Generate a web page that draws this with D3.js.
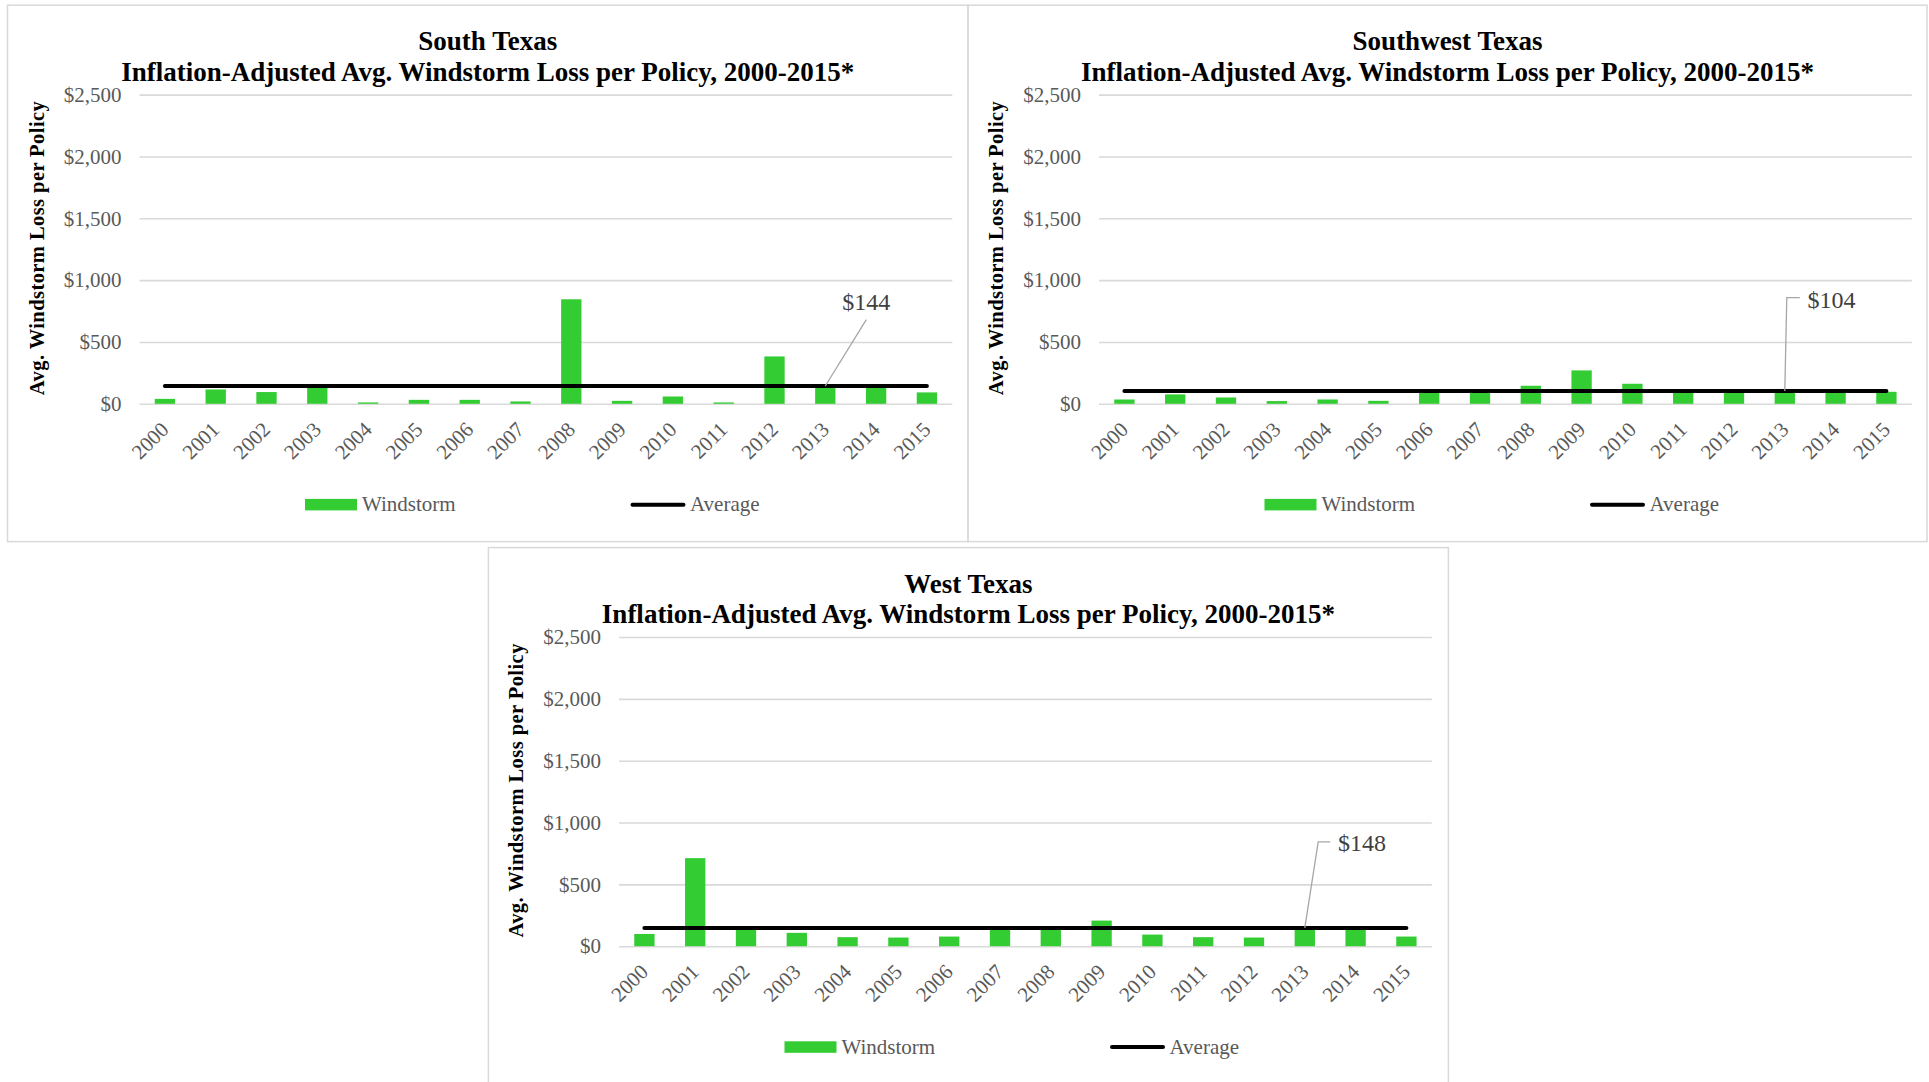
<!DOCTYPE html>
<html>
<head>
<meta charset="utf-8">
<script src="https://cdn.jsdelivr.net/npm/d3@7"></script>
<style>
  html, body { margin: 0; padding: 0; background: #ffffff; }
  svg { display: block; }
</style>
</head>
<body>
<svg id="chart" width="1929" height="1082"></svg>
<script>
// ---------------- DATA ----------------
const years = ['2000','2001','2002','2003','2004','2005','2006','2007','2008','2009','2010','2011','2012','2013','2014','2015'];
const regionNames = ['South Texas', 'Southwest Texas', 'West Texas'];
const subtitle = 'Inflation-Adjusted Avg. Windstorm Loss per Policy, 2000-2015*';
const southValues     = [40, 116, 95, 138, 11, 32, 32, 19, 845, 24, 59, 11, 383, 140, 140, 92];
const southwestValues = [35, 76, 51, 22, 35, 24, 95, 95, 146, 270, 162, 95, 95, 120, 95, 97];
const westValues      = [99, 712, 142, 108, 73, 70, 78, 142, 142, 207, 94, 73, 70, 145, 145, 78];
const averageValues   = [144, 104, 148];
const averageLabels   = ['$144', '$104', '$148'];
const yTicks = [0, 500, 1000, 1500, 2000, 2500];
const yAxisTitle = 'Avg. Windstorm Loss per Policy';
const legendLabels = ['Windstorm', 'Average'];

// ---------------- LAYOUT ----------------
const panels = [
  { x: 7.5,  y: 5.2,   w: 960.5, h: 536.4, plotLeft: 139.5, callout: 'diag' },
  { x: 968,  y: 5.2,   w: 959,   h: 536.4, plotLeft: 1099,  callout: 'elbowUp' },
  { x: 488.4,y: 547.6, w: 960,   h: 536.4, plotLeft: 619,   callout: 'elbowSlant' }
];
const seriesValues = [southValues, southwestValues, westValues];
const plotW = 812.8;
const plotTopRel = 89.4;
const plotBottomRel = 398.6;
const font = '"Liberation Serif", "Times New Roman", serif';
const green = '#33cc33';
const gridColor = '#d9d9d9';
const tickColor = '#595959';

const svg = d3.select('#chart');
svg.append('rect').attr('width', 1929).attr('height', 1082).attr('fill', '#ffffff');

panels.forEach((p, i) => {
  const values = seriesValues[i];
  const avg = averageValues[i];
  const g = svg.append('g');

  // panel border
  g.append('rect')
    .attr('x', p.x).attr('y', p.y).attr('width', p.w).attr('height', p.h)
    .attr('fill', 'none').attr('stroke', gridColor).attr('stroke-width', 1.5);

  const top = p.y + plotTopRel, bottom = p.y + plotBottomRel;
  const x = d3.scaleBand().domain(years).range([p.plotLeft, p.plotLeft + plotW])
    .paddingInner(0.6).paddingOuter(0.3);
  const y = d3.scaleLinear().domain([0, 2500]).range([bottom, top]);
  const cx = d => x(d) + x.bandwidth() / 2;

  // titles
  const tcx = p.x + p.w / 2;
  g.append('text').attr('x', tcx).attr('y', p.y + 45.2)
    .attr('text-anchor', 'middle').attr('font-family', font).attr('font-weight', 'bold')
    .attr('font-size', 27).attr('fill', '#000').text(regionNames[i]);
  g.append('text').attr('x', tcx).attr('y', p.y + 75.6)
    .attr('text-anchor', 'middle').attr('font-family', font).attr('font-weight', 'bold')
    .attr('font-size', 27).attr('fill', '#000').text(subtitle);

  // y axis with gridlines
  const yAxis = d3.axisLeft(y).tickValues(yTicks).tickSize(-plotW).tickPadding(18)
    .tickFormat(d => '$' + d3.format(',')(d));
  const ya = g.append('g').attr('transform', `translate(${p.plotLeft},0)`).call(yAxis);
  ya.select('.domain').remove();
  ya.selectAll('.tick line').attr('stroke', gridColor).attr('stroke-width', 1.6);
  ya.selectAll('.tick text').attr('fill', tickColor).attr('font-family', font)
    .attr('font-size', 21).attr('dy', '0.32em');

  // y axis title
  g.append('text')
    .attr('transform', `translate(${p.plotLeft - 96},${(top + bottom) / 2 - 1}) rotate(-90)`)
    .attr('text-anchor', 'middle').attr('font-family', font).attr('font-weight', 'bold')
    .attr('font-size', 20.5).attr('fill', '#000')
    .attr('textLength', 294).attr('lengthAdjust', 'spacing')
    .text(yAxisTitle);

  // bars
  g.append('g').selectAll('rect').data(years).join('rect')
    .attr('x', d => x(d)).attr('width', x.bandwidth())
    .attr('y', (d, k) => y(values[k]))
    .attr('height', (d, k) => bottom - y(values[k]))
    .attr('fill', green);

  // x axis labels
  const xAxis = d3.axisBottom(x).tickSize(0);
  const xa = g.append('g').attr('transform', `translate(0,${bottom})`).call(xAxis);
  xa.select('.domain').remove();
  xa.selectAll('.tick text')
    .attr('x', 0).attr('y', 0).attr('dy', 0)
    .attr('transform', 'translate(5,27) rotate(-45)')
    .attr('text-anchor', 'end')
    .attr('fill', tickColor).attr('font-family', font).attr('font-size', 21);

  // average line
  const ay = y(avg);
  g.append('line')
    .attr('x1', cx(years[0])).attr('x2', cx(years[years.length - 1]))
    .attr('y1', ay).attr('y2', ay)
    .attr('stroke', '#000').attr('stroke-width', 4).attr('stroke-linecap', 'round');

  // callout
  const ax = cx('2013');
  const calloutColor = '#a6a6a6';
  let pts, tx, ty, anchor;
  if (p.callout === 'diag') {
    pts = [[ax, ay], [ax + 41, ay - 66.4]];
    tx = ax + 41; ty = ay - 75.7; anchor = 'middle';
  } else if (p.callout === 'elbowUp') {
    pts = [[ax, ay], [ax + 2, ay - 93.4], [ax + 15, ay - 93.4]];
    tx = ax + 22.8; ty = ay - 83.4; anchor = 'start';
  } else {
    pts = [[ax, ay], [ax + 13.4, ay - 86.1], [ax + 25.4, ay - 86.1]];
    tx = ax + 33.2; ty = ay - 76.7; anchor = 'start';
  }
  g.append('path').attr('d', d3.line()(pts)).attr('fill', 'none')
    .attr('stroke', calloutColor).attr('stroke-width', 1.3);
  g.append('text').attr('x', tx).attr('y', ty).attr('text-anchor', anchor)
    .attr('font-family', font).attr('font-size', 24).attr('fill', '#404040')
    .text(averageLabels[i]);

  // legend
  const ly = p.y + 499.5;
  const lx = p.plotLeft;
  g.append('rect').attr('x', lx + 165.5).attr('y', ly - 5.8).attr('width', 52).attr('height', 11.5)
    .attr('fill', green);
  g.append('text').attr('x', lx + 222.5).attr('y', ly + 6.5)
    .attr('font-family', font).attr('font-size', 21).attr('fill', tickColor).text(legendLabels[0]);
  g.append('line').attr('x1', lx + 493).attr('x2', lx + 544).attr('y1', ly).attr('y2', ly)
    .attr('stroke', '#000').attr('stroke-width', 4).attr('stroke-linecap', 'round');
  g.append('text').attr('x', lx + 550.5).attr('y', ly + 6.5)
    .attr('font-family', font).attr('font-size', 21).attr('fill', tickColor).text(legendLabels[1]);
});
</script>
</body>
</html>
